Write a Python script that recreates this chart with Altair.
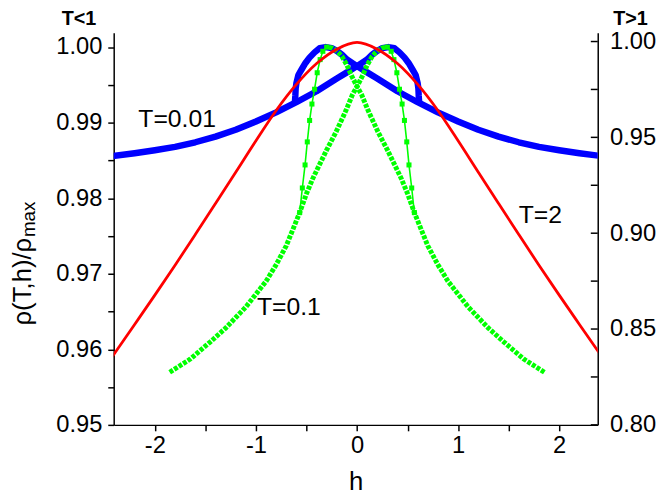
import altair as alt
import pandas as pd

# ---------------- data ----------------
# T=0.01 (left axis), two mirror branches
blue_a_h = [-2.45, -2.2, -2.0, -1.8, -1.6, -1.4, -1.2, -1.0, -0.8, -0.6, -0.4, -0.2, -0.1, 0.0,
            0.1, 0.15, 0.2, 0.25, 0.31, 0.37, 0.42, 0.47, 0.51, 0.55, 0.58, 0.60, 0.607, 0.61, 0.614]
blue_a_v = [0.98552, 0.98595, 0.98635, 0.98680, 0.98740, 0.98815, 0.98905, 0.99015, 0.99135, 0.99270,
            0.99415, 0.99585, 0.99665, 0.99748, 0.99835, 0.99900, 0.99950, 0.99985, 1.00000, 0.99985,
            0.99930, 0.99860, 0.99790, 0.99700, 0.99630, 0.99520, 0.99450, 0.99360, 0.99280]
blue_b_h = [2.45, 2.2, 2.0, 1.8, 1.6, 1.4, 1.2, 1.0, 0.8, 0.6, 0.4, 0.2, 0.1, 0.0,
            -0.1, -0.15, -0.2, -0.25, -0.31, -0.37, -0.42, -0.47, -0.51, -0.55, -0.58, -0.60, -0.607, -0.61, -0.614]
blue_b_v = [0.98552, 0.98595, 0.98635, 0.98680, 0.98740, 0.98815, 0.98905, 0.99015, 0.99135, 0.99270,
            0.99415, 0.99585, 0.99665, 0.99748, 0.99835, 0.99900, 0.99950, 0.99985, 1.00000, 0.99985,
            0.99930, 0.99860, 0.99790, 0.99700, 0.99630, 0.99520, 0.99450, 0.99360, 0.99280]

# T=0.1 (left axis): dense-marker part and steep thin-line part of each branch
green_a_dense_h = [-1.853, -1.65, -1.45, -1.30, -1.10, -0.90, -0.80, -0.70, -0.567, -0.50, -0.436, -0.30,
                   -0.208, -0.11, -0.045, 0.0, 0.053, 0.10, 0.15, 0.20, 0.25, 0.30]
green_a_dense_v = [0.95696, 0.95870, 0.96100, 0.96280, 0.96560, 0.96900, 0.97120, 0.97370, 0.97810, 0.98060,
                   0.98265, 0.98640, 0.98876, 0.99159, 0.99370, 0.99480, 0.99617, 0.99760, 0.99878, 0.99950,
                   0.99990, 1.00000]
green_b_dense_h = [1.853, 1.65, 1.45, 1.30, 1.10, 0.90, 0.80, 0.70, 0.567, 0.50, 0.436, 0.30,
                   0.208, 0.11, 0.045, 0.0, -0.053, -0.10, -0.15, -0.20, -0.25, -0.30]
green_b_dense_v = [0.95696, 0.95870, 0.96100, 0.96280, 0.96560, 0.96900, 0.97120, 0.97370, 0.97810, 0.98060,
                   0.98265, 0.98640, 0.98876, 0.99159, 0.99370, 0.99480, 0.99617, 0.99760, 0.99878, 0.99950,
                   0.99990, 1.00000]
green_a_steep_h = [0.30, 0.338, 0.365, 0.394, 0.420, 0.446, 0.469, 0.492, 0.514, 0.541, 0.567]
green_a_steep_v = [1.00000, 0.99944, 0.99834, 0.99660, 0.99442, 0.99246, 0.99029, 0.98745, 0.98440, 0.98135, 0.97810]
green_b_steep_h = [-0.30, -0.338, -0.365, -0.394, -0.420, -0.446, -0.469, -0.492, -0.514, -0.541, -0.567]
green_b_steep_v = [1.00000, 0.99944, 0.99834, 0.99660, 0.99442, 0.99246, 0.99029, 0.98745, 0.98440, 0.98135, 0.97810]

# T=2 (right axis)
red_h = [-2.45, -2.2, -2.0, -1.8, -1.6, -1.4, -1.2, -1.0, -0.8, -0.6, -0.4, -0.2, 0.0,
         0.2, 0.4, 0.6, 0.8, 1.0, 1.2, 1.4, 1.6, 1.8, 2.0, 2.2, 2.45]
red_v = [0.8334, 0.8524, 0.8677, 0.8833, 0.8993, 0.9155, 0.9318, 0.9482, 0.9640, 0.9776, 0.9885, 0.9960, 0.9995,
         0.9960, 0.9885, 0.9776, 0.9640, 0.9482, 0.9318, 0.9155, 0.8993, 0.8833, 0.8677, 0.8524, 0.8334]

# tick values
x_ticks = [-2, -1.5, -1, -0.5, 0, 0.5, 1, 1.5, 2]
yl_ticks = [0.95, 0.955, 0.96, 0.965, 0.97, 0.975, 0.98, 0.985, 0.99, 0.995, 1.0]
yr_ticks = [0.80, 0.825, 0.85, 0.875, 0.90, 0.925, 0.95, 0.975, 1.00]

# annotations (placed in data coordinates of the left axis)
ann_text = ["T=0.01", "T=0.1", "T=2"]
ann_h = [-2.163, -0.990, 1.600]
ann_v = [0.98941, 0.96458, 0.97677]
corner_text = ["T<1", "T>1"]
corner_h = [-2.75, 2.705]
corner_v = [1.0029, 1.0029]

FONT = "Liberation Sans"
W, H = 490, 397


def frame(hs, vs, name):
    return pd.DataFrame({"h": hs, "v": vs, "i": list(range(len(hs))), "s": name})


xs = alt.Scale(domain=[-2.407, 2.381], nice=False, zero=False)
yl = alt.Scale(domain=[0.95, 1.0019], nice=False, zero=False)
yr = alt.Scale(domain=[0.80, 1.0046], nice=False, zero=False)

x_axis = alt.Axis(values=x_ticks, labelExpr="datum.value % 1 == 0 ? '' + datum.value : ''",
                  title="h", titleFont=FONT, titleFontSize=26, titleFontWeight="normal",
                  titleY=65, titleBaseline="alphabetic", tickSize=6, labelPadding=3, grid=False)
yl_axis = alt.Axis(values=yl_ticks, labelExpr="abs(round(datum.value*1000) % 10) == 0 ? format(datum.value, '.2f') : ''",
                   title=None, tickSize=6, labelPadding=6, grid=False)
yr_axis = alt.Axis(values=yr_ticks, orient="right",
                   labelExpr="abs(round(datum.value*1000) % 50) == 0 ? format(datum.value, '.2f') : ''",
                   title=None, ticks=False, tickSize=0, labelPadding=12, grid=False)

X = alt.X("h:Q", scale=xs, axis=x_axis)
YL = alt.Y("v:Q", scale=yl, axis=yl_axis)
YR = alt.Y("v:Q", scale=yr, axis=yr_axis)

blue_df = pd.concat([frame(blue_a_h, blue_a_v, "a"), frame(blue_b_h, blue_b_v, "b")])
gdense_df = pd.concat([frame(green_a_dense_h, green_a_dense_v, "a"), frame(green_b_dense_h, green_b_dense_v, "b")])
gsteep_df = pd.concat([frame(green_a_steep_h, green_a_steep_v, "a"), frame(green_b_steep_h, green_b_steep_v, "b")])
red_df = frame(red_h, red_v, "r")

blue = alt.Chart(blue_df).mark_line(color="#0000FF", strokeWidth=6.5, clip=True, strokeJoin="round").encode(
    x=X, y=YL, detail="s:N", order="i:Q")
gdense = alt.Chart(gdense_df).mark_line(color="#00FF00", strokeWidth=5, strokeDash=[4, 1.4], clip=True).encode(
    x=X, y=YL, detail="s:N", order="i:Q")
gsteep = alt.Chart(gsteep_df).mark_line(color="#00FF00", strokeWidth=1.6, clip=True).encode(
    x=X, y=YL, detail="s:N", order="i:Q")
gpts = alt.Chart(gsteep_df).mark_point(shape="square", filled=True, color="#00FF00", size=26, opacity=1).encode(
    x=X, y=YL)

ann = alt.Chart(pd.DataFrame({"t": ann_text, "h": ann_h, "v": ann_v})).mark_text(
    font=FONT, fontSize=25, align="left", baseline="alphabetic", color="black").encode(
    x=X, y=YL, text="t:N")
corner = alt.Chart(pd.DataFrame({"t": corner_text, "h": corner_h, "v": corner_v})).mark_text(
    font=FONT, fontSize=20, fontWeight="bold", align="center", baseline="alphabetic", color="black").encode(
    x=X, y=YL, text="t:N")

ytitle_main = alt.Chart(pd.DataFrame({"t": ["ρ(T,h)/ρ"]})).mark_text(
    font=FONT, fontSize=26, angle=270, align="center", baseline="alphabetic", color="black").encode(
    x=alt.value(-84), y=alt.value(252), text="t:N")
ytitle_sub = alt.Chart(pd.DataFrame({"t": ["max"]})).mark_text(
    font=FONT, fontSize=19, angle=270, align="center", baseline="alphabetic", color="black").encode(
    x=alt.value(-80), y=alt.value(189), text="t:N")

red = alt.Chart(red_df).mark_line(color="#FF0000", strokeWidth=2.8, interpolate="monotone", clip=True).encode(
    x=X, y=YR, order="i:Q")
rticks = alt.Chart(pd.DataFrame({"v": yr_ticks})).mark_rule(color="black", strokeWidth=1.5).encode(
    y=YR, x=alt.value(W - 7), x2=alt.value(W))

left = alt.layer(blue, gdense, gsteep, gpts, ann, corner, ytitle_main, ytitle_sub)
right = alt.layer(red, rticks)

chart = alt.layer(left, right).resolve_scale(y="independent").properties(
    width=W, height=H,
    autosize=alt.AutoSizeParams(type="none"),
    padding={"left": 107, "top": 22, "right": 60, "bottom": 70},
).configure_view(stroke=None).configure_axis(
    labelFont=FONT, labelFontSize=24, labelColor="black", domainColor="black", tickColor="black",
    domainWidth=1.5, tickWidth=1.5, grid=False, titleColor="black")

chart.save("out.html", embed_options={"renderer": "svg", "actions": False})
